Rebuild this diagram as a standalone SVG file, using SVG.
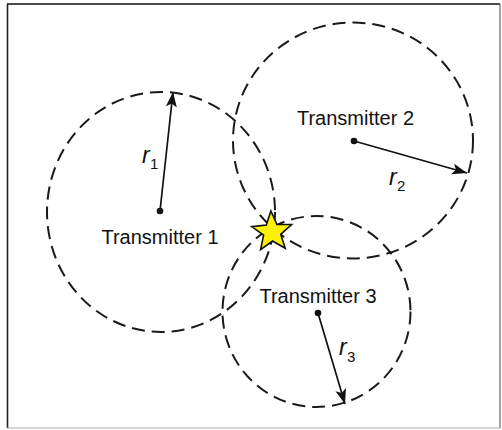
<svg xmlns="http://www.w3.org/2000/svg" width="502" height="430" viewBox="0 0 502 430">
<style>
.rng{fill:none;stroke:#1a1a1a;stroke-width:2;stroke-dasharray:13 7}
.rad{stroke:#111;stroke-width:1.7;fill:none}
.dot{fill:#111}
.lbl{font-family:"Liberation Sans",Arial,sans-serif;font-size:20px;fill:#111;text-anchor:middle}
.r{font-family:"Liberation Sans",Arial,sans-serif;font-size:23px;font-style:italic;fill:#111}
.sub{font-family:"Liberation Sans",Arial,sans-serif;font-size:15px;fill:#111}
</style>
<defs>
<marker id="ah" markerUnits="userSpaceOnUse" markerWidth="18" markerHeight="12" refX="15" refY="5.5" orient="auto">
<path d="M0,0 L15,5.5 L0,11 L3.5,5.5 Z" fill="#111"/>
</marker>
</defs>
<rect x="0" y="0" width="502" height="430" fill="#fff"/>
<g id="frame">
<line x1="7" y1="4" x2="500" y2="4" stroke="#111" stroke-width="1.6"/>
<line x1="7.5" y1="4" x2="7.5" y2="428" stroke="#222" stroke-width="1.6"/>
<line x1="500" y1="4" x2="500" y2="428" stroke="#666" stroke-width="1.2"/>
<line x1="7" y1="428" x2="500" y2="428" stroke="#aaa" stroke-width="1.2"/>
</g>
<g id="connectors">
<line class="rad" x1="160" y1="211" x2="173" y2="92" marker-end="url(#ah)"/>
<line class="rad" x1="354" y1="141" x2="467" y2="173" marker-end="url(#ah)"/>
<line class="rad" x1="318" y1="313" x2="345" y2="404" marker-end="url(#ah)"/>
</g>
<g id="transmitter1">
<ellipse class="rng" cx="161" cy="212" rx="114" ry="120"/>
<circle class="dot" cx="160" cy="211" r="3.3"/>
<text class="lbl" x="160" y="244">Transmitter 1</text>
<text class="r" x="142" y="163">r</text><text class="sub" x="150" y="169">1</text>
</g>
<g id="transmitter2">
<ellipse class="rng" cx="353" cy="140.5" rx="120" ry="118"/>
<circle class="dot" cx="354" cy="141" r="3.3"/>
<text class="lbl" x="355.5" y="125">Transmitter 2</text>
<text class="r" x="389" y="185">r</text><text class="sub" x="397" y="191">2</text>
</g>
<g id="transmitter3">
<ellipse class="rng" cx="316.5" cy="311.5" rx="94" ry="95.5"/>
<circle class="dot" cx="318" cy="313" r="3.3"/>
<text class="lbl" x="318" y="303">Transmitter 3</text>
<text class="r" x="339" y="355">r</text><text class="sub" x="347" y="362">3</text>
</g>
<g id="target">
<polygon points="270.9,211 276.9,224.5 291.6,224.5 280.7,234.3 285.2,248.3 272.5,241 260.6,249.6 263.6,235.2 251.7,226.6 266.3,225" fill="#fff200" stroke="#111" stroke-width="1.6" stroke-linejoin="miter"/>
</g>
</svg>
